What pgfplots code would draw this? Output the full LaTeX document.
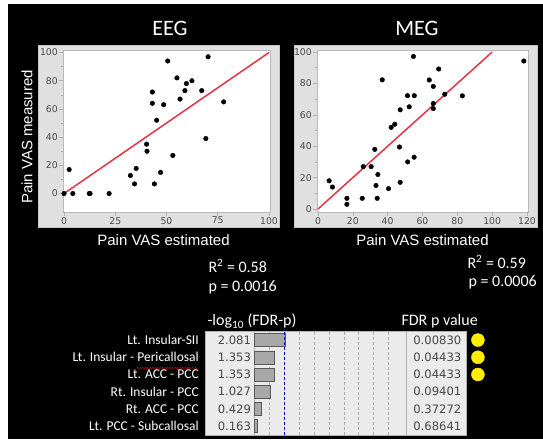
\documentclass[border=0pt]{standalone}
\usepackage{pgfplots}
\pgfplotsset{compat=1.18}
\usepackage{pgfplotstable}
\usepackage{fontspec}
\setmainfont{Carlito}
\newfontfamily\arialf{Liberation Sans}
\newfontfamily\tahf{DejaVu Sans}
\usetikzlibrary{decorations.pathmorphing}
\definecolor{framegray}{HTML}{E0E0E0}
\definecolor{regred}{HTML}{E23445}
\definecolor{tickgray}{HTML}{484848}
\definecolor{tabbg}{HTML}{EBEBEB}
\definecolor{bargray}{HTML}{A8A8A8}
\definecolor{dotyellow}{HTML}{FFEE00}

\pgfplotstableread{
x y
0 0
2.5 17
4.3 0
12.3 0
12.7 0
22 0
32.4 12.8
34.4 6.8
35.2 17.8
40.3 35
40.5 30
43.1 64
43.1 72
44.1 6.8
45.2 52
47.1 15
48.6 63
50.6 94
53.1 27
55.1 82
56.6 67
59 73
59.7 78
62.4 80
67.2 73
69.2 39
70.3 97
77.9 65
}\eegdata

\pgfplotstableread{
x y
6.4 18
8.3 14
16.6 6.8
16.6 3
25.4 6.8
26 27
30.5 27
32.6 38
33.3 15
34.4 22
34 6.8
36.9 82.3
40.5 13
42 52
44.1 54
47.2 63.2
46.8 39.5
47.2 17
51.4 72.2
52.4 65.1
51.5 30
55.3 72.2
54.8 97.2
55.2 33
63.9 82.2
66.2 78.1
66.2 67.2
66.2 64
69.3 89.2
72.8 73.1
82.9 72.1
118.2 94.3
}\megdata

\pgfplotstableread{
row logp
1 2.081
2 1.353
3 1.353
4 1.027
5 0.429
6 0.163
}\tabdata

\begin{document}
\begin{tikzpicture}[x=1pt,y=1pt]
\path[use as bounding box] (0,0) rectangle (543,439);
\fill[white] (0,0) rectangle (543,439);
\fill[black] (8,0) rectangle (543,435);

% frames
\filldraw[fill=framegray, draw=gray!45] (38,212) rectangle (279,394);
\filldraw[fill=framegray, draw=gray!45] (294,212) rectangle (537,394);

% titles
\node[white, font=\fontsize{22}{24}\selectfont] at (170,411) {EEG};
\node[white, font=\fontsize{22}{24}\selectfont] at (417,411) {MEG};

\pgfplotsset{jmp/.style={
  scale only axis, anchor=south west,
  axis background/.style={fill=white},
  axis line style={gray!55},
  tick align=outside, major tick length=4pt, minor tick length=2.5pt,
  tick style={gray!60, line width=0.5pt},
  xtick pos=bottom, ytick pos=left,
  minor y tick num=1,
  ticklabel style={font=\tahf\fontsize{9.3}{10}\selectfont, text=tickgray, inner sep=1pt},
  /pgf/number format/assume math mode=true,
  clip=true,
}}

% EEG
\begin{axis}[jmp, at={(63pt,227pt)}, width=207pt, height=162pt,
  xmin=-0.5, xmax=100.5, ymin=-13.1, ymax=101.8,
  xtick={0,25,50,75,100}, ytick={0,20,...,100}]
\addplot[regred, line width=1.5pt] coordinates {(0,0) (100,100)};
\addplot[only marks, mark=*, mark size=2.3pt, black] table[x=x,y=y] {\eegdata};
\end{axis}

% MEG
\begin{axis}[jmp, at={(317pt,227pt)}, width=211pt, height=162pt,
  xmin=-0.57, xmax=120.6, ymin=-1.9, ymax=101.3,
  xtick={0,20,...,120}, ytick={0,20,...,100}]
\addplot[regred, line width=1.5pt] coordinates {(0,0) (100,100)};
\addplot[only marks, mark=*, mark size=2.3pt, black] table[x=x,y=y] {\megdata};
\end{axis}

% axis labels
\node[white, font=\arialf\fontsize{15}{16}\selectfont] at (163.5,199) {Pain VAS estimated};
\node[white, font=\arialf\fontsize{15}{16}\selectfont] at (422.5,199) {Pain VAS estimated};
\node[white, rotate=90, font=\arialf\fontsize{15}{16}\selectfont] at (27,302) {Pain VAS measured};

% stats
\node[white, anchor=west, font=\fontsize{16}{18}\selectfont] at (205,173) {R\textsuperscript{2} = 0.58};
\node[white, anchor=west, font=\fontsize{16}{18}\selectfont] at (205,152) {p = 0.0016};
\node[white, anchor=west, font=\fontsize{16}{18}\selectfont] at (464,177) {R\textsuperscript{2} = 0.59};
\node[white, anchor=west, font=\fontsize{16}{18}\selectfont] at (465,157) {p = 0.0006};

% table headers
\node[white, anchor=west, font=\fontsize{16}{18}\selectfont] at (204,118) {-log\textsubscript{10} (FDR-p)};
\node[white, anchor=west, font=\fontsize{16}{18}\selectfont] at (398,118) {FDR p value};

% table
\begin{axis}[scale only axis, anchor=south west, at={(205pt,4.3pt)},
  width=261pt, height=103.2pt,
  xmin=-3.32, xmax=14.2, ymin=0.5, ymax=6.5, y dir=reverse,
  axis background/.style={fill=tabbg},
  axis line style={gray!60},
  clip=false,
  xtick={1,3,4,5,6,7,8,9}, xticklabels={}, xmajorgrids,
  grid style={densely dashed, gray!65, line width=0.5pt},
  extra x ticks={0,10.2}, extra x tick labels={},
  extra x tick style={grid style={solid, gray!60, line width=0.6pt}},
  major tick length=0pt,
  ytick={1,...,6},
  yticklabels={Lt. Insular-SII, Lt. Insular - Pericallosal, Lt. ACC - PCC, Rt. Insular - PCC, Rt. ACC - PCC, Lt. PCC - Subcallosal},
  yticklabel style={text=white, font=\fontsize{13.5}{14}\selectfont, inner sep=0pt, xshift=-6pt},
]
\addplot[xbar, bar width=13pt, fill=bargray, draw=gray!70!black, line width=0.4pt] table[x=logp, y=row] {\tabdata};
\addplot[blue!80!black, densely dashed, line width=0.8pt] coordinates {(2,0.5) (2,6.5)};
\addplot[only marks, mark=*, mark size=6.5pt, color=dotyellow] coordinates {(15.0,1) (15.0,2) (15.0,3)};
\begin{scope}[every node/.style={anchor=east, font=\tahf\fontsize{11.6}{12}\selectfont, text=tickgray, inner sep=0pt}]
\node at (axis cs:-0.22,1) {2.081};
\node at (axis cs:-0.22,2) {1.353};
\node at (axis cs:-0.22,3) {1.353};
\node at (axis cs:-0.22,4) {1.027};
\node at (axis cs:-0.22,5) {0.429};
\node at (axis cs:-0.22,6) {0.163};
\node at (axis cs:13.9,1) {0.00830};
\node at (axis cs:13.9,2) {0.04433};
\node at (axis cs:13.9,3) {0.04433};
\node at (axis cs:13.9,4) {0.09401};
\node at (axis cs:13.9,5) {0.37272};
\node at (axis cs:13.9,6) {0.68641};
\end{scope}
\end{axis}

% spell-check underline
\draw[red!85!black, line width=0.5pt, decorate, decoration={snake, amplitude=0.6pt, segment length=2.5pt}] (137,71) -- (198,71);
\end{tikzpicture}
\end{document}
